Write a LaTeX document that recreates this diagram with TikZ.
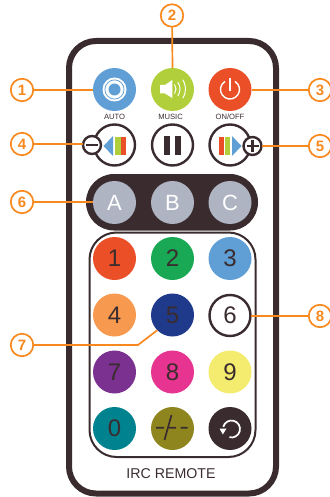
\documentclass[tikz,border=0pt]{standalone}
\usepackage{fontspec}
\setmainfont{Liberation Sans}
\definecolor{dk}{HTML}{3A2C2E}
\definecolor{org}{HTML}{F7891E}
\definecolor{rd}{HTML}{EA4F28}
\definecolor{bl}{HTML}{5F9FD6}
\definecolor{lm}{HTML}{B1CF3A}
\definecolor{gr}{HTML}{AFB4C2}
\tikzset{
 btn/.style={circle,minimum size=43pt,inner sep=0pt,outer sep=0pt,font=\fontsize{24}{24}\selectfont,text=dk},
 ring/.style={btn,draw=dk,line width=2.4pt,fill=white,minimum size=41pt},
 abc/.style={btn,fill=gr,text=white,font=\fontsize{22}{22}\selectfont},
 smallbtn/.style={circle,draw=dk,line width=2.4pt,fill=white,minimum size=18pt,inner sep=0pt,outer sep=0pt},
 call/.style={circle,draw=org,line width=1.7pt,fill=white,minimum size=22.5pt,inner sep=0pt,outer sep=0pt,text=org,font=\fontsize{15}{15}\bfseries\selectfont},
 lead/.style={draw=org,line width=1.7pt},
 captext/.style={font=\fontsize{7.6}{8}\selectfont,text=dk,inner sep=0pt}
}
\begin{document}
\begin{tikzpicture}[x=1pt,y=-1pt]
\useasboundingbox (0,0) rectangle (329,497);
\draw[dk,line width=6pt,rounded corners=27pt] (69,41) rectangle (276,493.5);
% top row
\node[btn,fill=bl] (auto) at (114.5,89.5) {};
\node[btn,fill=lm] (music) at (172.5,89.5) {};
\node[btn,fill=rd] (onoff) at (230,89.5) {};
\fill[white] (auto) circle (12pt);
\draw[bl,line width=0.7pt] (auto) circle (9.6pt);
\fill[bl] (auto) circle (6pt);
\fill[white] (160,85) -- (165,85) -- (172.3,80) -- (172.3,98) -- (165,93.5) -- (160,93.5) -- cycle;
\draw[white,line width=1pt] (168,89) ++(-35:8pt) arc (-35:35:8pt);
\draw[white,line width=1pt] (168,89) ++(-35:12pt) arc (-35:35:12pt);
\draw[white,line width=1pt] (168,89) ++(-32:17.5pt) arc (-32:32:17.5pt);
\draw[white,line width=1.4pt] (230,78.5) -- (230,91);
\draw[white,line width=1.4pt] (230,89.5) ++(58:9.5pt) arc (58:-238:9.5pt);
\node[captext] (l1) at (114.5,117) {AUTO};
\node[captext] (l2) at (170.5,117) {MUSIC};
\node[captext] (l3) at (230,117) {ON/OFF};
% second row
\node[ring] (prev) at (114.5,145) {};
\node[ring] (pause) at (172.5,145) {};
\node[ring] (next) at (230,145) {};
\fill[dk] (164,136) rectangle (170,155);
\fill[dk] (175,136) rectangle (181,155);
\fill[bl] (113,136) -- (113,156) -- (103.5,146) -- cycle;
\fill[lm] (115,137) rectangle (120.5,155);
\fill[rd] (121,137) rectangle (125.5,155);
\fill[rd] (219,137) rectangle (223.5,155);
\fill[lm] (224.5,137) rectangle (230,155);
\fill[bl] (232,136) -- (232,156) -- (241.5,146) -- cycle;
\node[smallbtn] (minus) at (92,145) {};
\node[smallbtn] (plus) at (252.5,146) {};
\draw[dk,line width=2.6pt] (86,145) -- (98,145);
\draw[dk,line width=2.2pt] (246.5,146) -- (258.5,146) (252.5,140) -- (252.5,152);
% ABC
\fill[dk,rounded corners=28pt] (86,174) rectangle (258,230.5);
\node[abc] (btnA) at (114.5,202.5) {A};
\node[abc] (btnB) at (172.5,202.5) {B};
\node[abc] (btnC) at (230,202.5) {C};
% panel
\draw[dk,line width=2pt,rounded corners=27pt] (89.5,232.5) rectangle (255.5,457);
\node[btn,fill=rd] (n1) at (114.5,258.5) {1};
\node[btn,fill={rgb,255:red,25;green,168;blue,83}] (n2) at (172.5,258.5) {2};
\node[btn,fill=bl] (n3) at (230,258.5) {3};
\node[btn,fill={rgb,255:red,247;green,153;blue,79}] (n4) at (114.5,315) {4};
\node[btn,fill={rgb,255:red,31;green,58;blue,138}] (n5) at (172.5,315) {5};
\node[ring] (n6) at (230,315.5) {6};
\node[btn,fill={rgb,255:red,122;green,49;blue,144}] (n7) at (114.5,372) {7};
\node[btn,fill={rgb,255:red,231;green,52;blue,144}] (n8) at (172.5,372) {8};
\node[btn,fill={rgb,255:red,244;green,236;blue,110}] (n9) at (230,372) {9};
\node[btn,fill={rgb,255:red,0;green,131;blue,143}] (n0) at (114.5,428.5) {0};
\node[btn,fill={rgb,255:red,142;green,133;blue,31}] (nd) at (172.5,428.5) {};
\node[btn,fill=dk] (nr) at (230,428.5) {};
\draw[dk,line width=1.7pt] (156,427.7) -- (164,427.7) (164.5,440) -- (171.5,415) (169,427.7) -- (176,427.7) (180.7,427.7) -- (187.7,427.7);
\draw[white,line width=1.7pt] (231.5,429) ++(165:8.5pt) arc (165:-105:8.5pt);
\fill[white] (219.5,428.5) -- (226.5,428.5) -- (222.8,434.5) -- cycle;
\node[font=\fontsize{14.2}{14}\selectfont,text=dk,inner sep=0pt] (title) at (171,474) {IRC REMOTE};
% callouts
\node[call] (c1) at (22,90) {1};
\node[call] (c2) at (172,15.5) {2};
\node[call] (c3) at (320,90) {3};
\node[call] (c4) at (22,144) {4};
\node[call] (c5) at (320,146) {5};
\node[call] (c6) at (22,202) {6};
\node[call] (c7) at (22,345) {7};
\node[call] (c8) at (320,316) {8};
\draw[lead] (c1) -- (auto.west |- c1);
\draw[lead] (c2) -- (music.north);
\draw[lead] (c3) -- (onoff.east |- c3);
\draw[lead] (c4) -- (minus.west |- c4);
\draw[lead] (c5) -- (plus.east |- c5);
\draw[lead] (c6) -- (btnA.west |- c6);
\draw[lead] (c7) -- (138,345) -- (n5.225);
\draw[lead] (c8) -- (n6.east |- c8);
\end{tikzpicture}
\end{document}
